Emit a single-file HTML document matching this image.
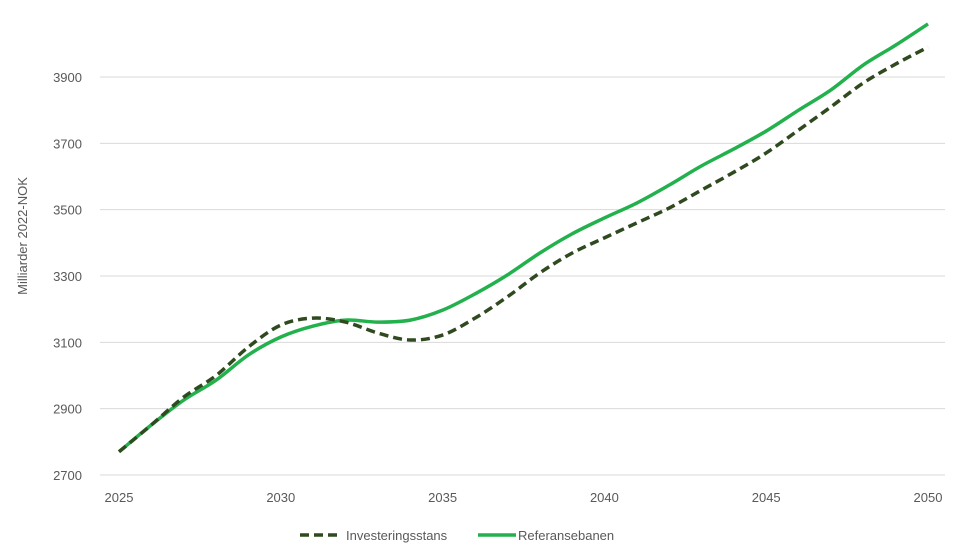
<!DOCTYPE html>
<html><head><meta charset="utf-8"><style>
body{margin:0;background:#fff;font-family:"Liberation Sans",sans-serif}
svg text{font-family:"Liberation Sans",sans-serif;fill:#595959;font-size:13px}
</style></head><body>
<svg id="chart" width="960" height="550">
<g id="grid"></g>
<g id="yt"></g>
<g id="xt"></g>
<g id="series"></g>
<text transform="translate(27,236) rotate(-90)" text-anchor="middle" font-size="14">Milliarder 2022-NOK</text>
<g>
<g>
<line x1="300" y1="535" x2="342" y2="535" stroke="#2f4a1e" stroke-width="3.5" stroke-dasharray="9,5"/>
<text x="346" y="540">Investeringsstans</text></g>
<g>
<line x1="478" y1="535" x2="516" y2="535" stroke="#22b14c" stroke-width="3.5"/>
<text x="518" y="540">Referansebanen</text></g>
</g>
</svg>
<script>
const years=[2025,2026,2027,2028,2029,2030,2031,2032,2033,2034,2035,2036,2037,2038,2039,2040,2041,2042,2043,2044,2045,2046,2047,2048,2049,2050];
const investeringsstans=[2770,2851,2935,3000,3086,3152,3173,3161,3128,3107,3122,3173,3237,3309,3369,3415,3460,3505,3559,3613,3671,3740,3810,3882,3939,3990];
const referansebanen=[2770,2851,2926,2986,3062,3116,3149,3167,3161,3167,3197,3246,3303,3369,3427,3475,3520,3574,3632,3683,3737,3800,3861,3936,3996,4060];
const yTicks=[2700,2900,3100,3300,3500,3700,3900];
const xTicks=[2025,2030,2035,2040,2045,2050];
const NS='http://www.w3.org/2000/svg';
const x=v=>119+(v-2025)*(928-119)/25;
const y=v=>475-(v-2700)*(475-77)/1200;
function mk(t,a,p){const e=document.createElementNS(NS,t);for(const k in a)e.setAttribute(k,a[k]);p.appendChild(e);return e;}
const grid=document.getElementById('grid'),yt=document.getElementById('yt'),xt=document.getElementById('xt'),ser=document.getElementById('series');
yTicks.forEach(v=>{
 const l=mk('line',{x1:100,x2:945,y1:y(v),y2:y(v),stroke:'#d9d9d9','stroke-width':1},grid);
 
 
 const t=mk('text',{x:82,y:y(v)+5,'text-anchor':'end'},yt);t.textContent=v;
 
 
});
xTicks.forEach(v=>{
 const t=mk('text',{x:x(v),y:502,'text-anchor':'middle'},xt);t.textContent=v;
 
 
});
function path(vals){
 const p=vals.map((v,i)=>[x(years[i]),y(v)]);
 let d='M'+p[0][0]+','+p[0][1];
 for(let i=0;i<p.length-1;i++){
  const p0=p[i-1]||p[i],p1=p[i],p2=p[i+1],p3=p[i+2]||p2;
  d+=` C${p1[0]+(p2[0]-p0[0])/6},${p1[1]+(p2[1]-p0[1])/6} ${p2[0]-(p3[0]-p1[0])/6},${p2[1]-(p3[1]-p1[1])/6} ${p2[0]},${p2[1]}`;
 }
 return d;
}
const r=mk('path',{d:path(referansebanen),fill:'none',stroke:'#22b14c','stroke-width':3.5},ser);


const iv=mk('path',{d:path(investeringsstans),fill:'none',stroke:'#2f4a1e','stroke-width':3.5,'stroke-dasharray':'9,5'},ser);


</script>
</body></html>
